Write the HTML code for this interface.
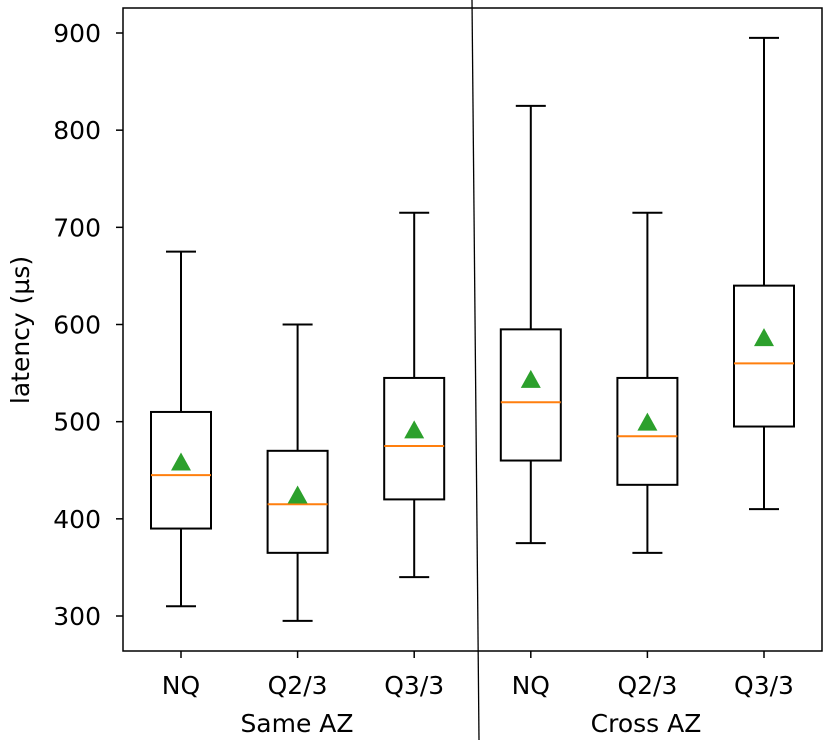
<!DOCTYPE html>
<html><head><meta charset="utf-8"><style>
body{margin:0;background:#fff}
svg text{font-family:"DejaVu Sans","Liberation Sans",sans-serif;font-size:25px;fill:#000}
</style></head><body>
<svg id="chart" width="830" height="747">
<rect x="123" y="8" width="699" height="643" fill="none" stroke="#000" stroke-width="1.5"/>
<g id="marks"></g>
<line x1="472" y1="0" x2="479" y2="740" stroke="#000" stroke-width="1.3"/>
<text x="297" y="732" text-anchor="middle">Same AZ</text>
<text x="646" y="732" text-anchor="middle">Cross AZ</text>
<text transform="translate(29,330) rotate(-90)" text-anchor="middle">latency (µs)</text>
</svg>
<script>
const categories=["NQ","Q2/3","Q3/3","NQ","Q2/3","Q3/3"];
const whiskerLow=[310,295,340,375,365,410];
const q1=[390,365,420,460,435,495];
const medians=[445,415,475,520,485,560];
const q3=[510,470,545,595,545,640];
const whiskerHigh=[675,600,715,825,715,895];
const means=[457,423,490,542,498,585];
const yTicks=[300,400,500,600,700,800,900];
const NS="http://www.w3.org/2000/svg";
const y=v=>616-(v-300)*(583/600);
const x=i=>181+i*116.6;
const g=document.getElementById('marks');
const svg=document.getElementById('chart');
function mk(t,a,p){const e=document.createElementNS(NS,t);for(const k in a)e.setAttribute(k,a[k]);(p||g).appendChild(e);return e;}
yTicks.forEach(t=>{
 const l=mk('line',{x1:116,x2:123,y1:y(t),y2:y(t),stroke:'#000','stroke-width':1.5});
 
 
 const tx=mk('text',{x:101,y:y(t)+9,'text-anchor':'end'},svg);tx.textContent=t;
 
 
});
categories.forEach((c,i)=>{
 const cx=x(i),s={stroke:'#000','stroke-width':2,fill:'none'};
 const grp=mk('g',{});
 
 
 mk('line',{x1:cx,x2:cx,y1:y(whiskerLow[i]),y2:y(q1[i]),...s},grp);
 mk('line',{x1:cx,x2:cx,y1:y(q3[i]),y2:y(whiskerHigh[i]),...s},grp);
 mk('line',{x1:cx-15,x2:cx+15,y1:y(whiskerLow[i]),y2:y(whiskerLow[i]),...s},grp);
 mk('line',{x1:cx-15,x2:cx+15,y1:y(whiskerHigh[i]),y2:y(whiskerHigh[i]),...s},grp);
 mk('rect',{x:cx-30,y:y(q3[i]),width:60,height:y(q1[i])-y(q3[i]),...s},grp);
 mk('line',{x1:cx-30,x2:cx+30,y1:y(medians[i]),y2:y(medians[i]),stroke:'#ff7f0e','stroke-width':2},grp);
 const my=y(means[i]);
 mk('polygon',{points:`${cx},${my-11} ${cx-10},${my+7} ${cx+10},${my+7}`,fill:'#2ca02c'},grp);
 const tk=mk('line',{x1:cx,x2:cx,y1:651,y2:658,stroke:'#000','stroke-width':1.5});
 
 
 const tx=mk('text',{x:cx,y:694,'text-anchor':'middle'},svg);tx.textContent=c;
 
 
});
</script>
</body></html>
